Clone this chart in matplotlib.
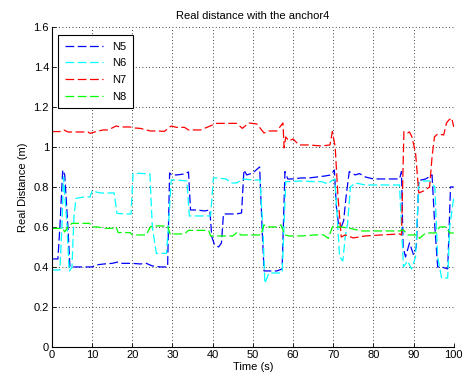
import matplotlib
matplotlib.use("Agg")
import matplotlib.pyplot as plt

title = "Real distance with the anchor4"
xlabel = "Time (s)"
ylabel = "Real Distance (m)"
labels = ["N5", "N6", "N7", "N8"]
xticks = [0, 10, 20, 30, 40, 50, 60, 70, 80, 90, 100]
yticks = [0, 0.2, 0.4, 0.6, 0.8, 1.0, 1.2, 1.4, 1.6]
ytick_labels = ["0", "0.2", "0.4", "0.6", "0.8", "1", "1.2", "1.4", "1.6"]

n5_t = [0, 1.5, 2.0, 2.7, 3.2, 4.0, 4.5, 6, 8, 10,
        11, 13, 15, 16.5, 17.5, 20, 22, 23.5, 25, 27,
        28.8, 29.3, 29.8, 31, 33, 34, 34.5, 36, 38, 39.3,
        39.8, 40.5, 41.5, 42.2, 42.7, 44, 46, 47.2, 47.8, 48.5,
        50, 51.7, 52.3, 52.8, 54, 56, 57.3, 58.0, 58.7, 60,
        62, 64, 66, 68, 69.4, 70.3, 70.8, 71.3, 72, 72.6,
        73.2, 74, 75.5, 76.5, 78, 80, 82, 84, 86.5, 87.0,
        87.4, 88, 89, 90, 90.7, 91.3, 92, 93, 94.6, 95.3,
        96, 97, 98.5, 99.2, 100]
n5_y = [0.44, 0.44, 0.60, 0.885, 0.86, 0.60, 0.40, 0.40, 0.40, 0.40,
        0.41, 0.415, 0.418, 0.425, 0.418, 0.418, 0.415, 0.418, 0.405, 0.40,
        0.40, 0.87, 0.86, 0.86, 0.865, 0.875, 0.685, 0.685, 0.68, 0.685,
        0.55, 0.51, 0.50, 0.52, 0.665, 0.665, 0.665, 0.67, 0.885, 0.86,
        0.87, 0.90, 0.60, 0.38, 0.38, 0.38, 0.39, 0.877, 0.84, 0.84,
        0.845, 0.845, 0.85, 0.855, 0.86, 0.885, 0.70, 0.62, 0.60, 0.63,
        0.75, 0.877, 0.86, 0.867, 0.85, 0.84, 0.84, 0.84, 0.84, 0.877,
        0.50, 0.45, 0.52, 0.46, 0.50, 0.835, 0.835, 0.84, 0.86, 0.60,
        0.40, 0.40, 0.39, 0.80, 0.80]

n6_t = [0, 2.0, 2.5, 2.9, 3.8, 4.3, 5.0, 5.5, 6.0, 8,
        9.5, 10.0, 12, 15.5, 16.2, 18, 19.7, 20.2, 22, 24.4,
        25.0, 26, 28.5, 29.0, 29.7, 31, 33.6, 34.2, 36, 39.5,
        40.2, 41, 43.4, 44.5, 46, 47.5, 50, 51.8, 52.5, 53.0,
        54, 56, 57.3, 58.2, 59, 62, 65, 67, 68.8, 69.5,
        70.4, 71.0, 71.6, 72.4, 73.0, 73.6, 74.3, 75.5, 78, 82,
        86.5, 87.0, 87.5, 88.5, 89.5, 90.5, 91.3, 92, 94, 95.3,
        96.0, 97.0, 98.5, 99.0, 100]
n6_y = [0.385, 0.385, 0.60, 0.85, 0.60, 0.377, 0.40, 0.65, 0.743, 0.75,
        0.75, 0.78, 0.77, 0.77, 0.668, 0.665, 0.665, 0.868, 0.868, 0.865,
        0.60, 0.468, 0.468, 0.60, 0.835, 0.835, 0.83, 0.655, 0.655, 0.655,
        0.845, 0.845, 0.84, 0.82, 0.82, 0.84, 0.835, 0.835, 0.60, 0.318,
        0.37, 0.37, 0.37, 0.827, 0.827, 0.83, 0.827, 0.827, 0.815, 0.83,
        0.84, 0.65, 0.45, 0.43, 0.55, 0.62, 0.80, 0.82, 0.81, 0.81,
        0.81, 0.60, 0.40, 0.43, 0.39, 0.45, 0.82, 0.83, 0.83, 0.80,
        0.45, 0.343, 0.345, 0.60, 0.75]

n7_t = [0, 2, 3, 4, 6, 9, 9.5, 11, 12.7, 14,
        16, 17, 19.4, 20.5, 22, 24.5, 26, 28, 29.7, 31,
        33, 34, 37, 40, 41, 44, 46, 47.4, 49, 51,
        52.8, 54, 56, 57.5, 57.8, 58.2, 59, 60, 61.5, 64,
        67, 69.2, 69.8, 70.5, 71.2, 72, 73, 75, 78, 82,
        86.5, 87.0, 87.6, 88.5, 89, 89.6, 90.5, 91.3, 92.5, 94,
        94.6, 95.2, 96, 97.5, 98.2, 98.8, 99.5, 100]
n7_y = [1.077, 1.077, 1.085, 1.075, 1.075, 1.075, 1.068, 1.077, 1.085, 1.085,
        1.105, 1.10, 1.10, 1.095, 1.093, 1.08, 1.08, 1.078, 1.105, 1.098,
        1.098, 1.085, 1.085, 1.11, 1.118, 1.118, 1.118, 1.093, 1.12, 1.115,
        1.07, 1.08, 1.08, 1.12, 0.995, 1.05, 1.03, 1.04, 1.01, 1.01,
        1.005, 1.01, 1.077, 1.0, 0.75, 0.55, 0.56, 0.545, 0.555, 0.56,
        0.565, 0.56, 1.077, 1.07, 1.075, 1.05, 0.97, 0.77, 0.78, 0.80,
        0.95, 1.05, 1.065, 1.06, 1.12, 1.135, 1.145, 1.10]

n8_t = [0, 2.7, 3.2, 4.0, 5, 9.4, 10, 11.5, 13, 15,
        16, 16.5, 19.5, 20, 23.5, 24.5, 25.5, 28.8, 29.5, 30.5,
        33, 34, 39, 39.5, 45, 46.2, 47, 48, 50, 52,
        52.8, 53.5, 56, 57, 58, 59, 62, 65.5, 67.6, 68.8,
        69.8, 71, 72, 74, 77, 80, 84, 86.5, 87.5, 88.5,
        91, 91.5, 93, 95.5, 96.5, 98, 99, 100]
n8_y = [0.593, 0.593, 0.575, 0.60, 0.618, 0.618, 0.60, 0.60, 0.593, 0.593,
        0.60, 0.572, 0.572, 0.56, 0.56, 0.60, 0.605, 0.605, 0.56, 0.565,
        0.565, 0.583, 0.583, 0.555, 0.555, 0.575, 0.56, 0.56, 0.56, 0.56,
        0.61, 0.60, 0.60, 0.61, 0.56, 0.555, 0.555, 0.56, 0.56, 0.543,
        0.60, 0.60, 0.60, 0.594, 0.58, 0.58, 0.58, 0.58, 0.585, 0.56,
        0.56, 0.543, 0.57, 0.57, 0.60, 0.60, 0.57, 0.57]

colors = ["#0000ff", "#00ffff", "#ff0000", "#00ff00"]
series = [(n5_t, n5_y), (n6_t, n6_y), (n7_t, n7_y), (n8_t, n8_y)]

plt.rcParams["font.family"] = ["Liberation Sans", "DejaVu Sans"]

fig = plt.figure(figsize=(4.63, 3.80), dpi=100)
ax = fig.add_axes([0.112, 0.087, 0.868, 0.842])

for (t, y), c, lab in zip(series, colors, labels):
    ax.plot(t, y, color=c, lw=0.9, dashes=(7, 2.8), label=lab)

ax.set_xlim(0, 100)
ax.set_ylim(0, 1.6)
ax.set_xticks(xticks)
ax.set_yticks(yticks)
ax.set_yticklabels(ytick_labels)
ax.tick_params(direction="in", length=3, width=0.6, labelsize=8, pad=2)
ax.grid(True, color="black", linestyle=(0, (1, 3)), linewidth=0.6)
for s in ["top", "right"]:
    ax.spines[s].set_visible(False)
for s in ["left", "bottom"]:
    ax.spines[s].set_linewidth(0.8)

ax.set_title(title, fontsize=8, pad=6)
ax.set_xlabel(xlabel, fontsize=8, labelpad=2)
ax.set_ylabel(ylabel, fontsize=8, labelpad=4)

leg = ax.legend(loc="upper left", bbox_to_anchor=(0.015, 0.975), borderaxespad=0,
                fancybox=False, edgecolor="black", framealpha=1, fontsize=8,
                handlelength=3.5, labelspacing=0.6, borderpad=0.6)
leg.get_frame().set_linewidth(0.8)

fig.savefig("out.png", dpi=100)
